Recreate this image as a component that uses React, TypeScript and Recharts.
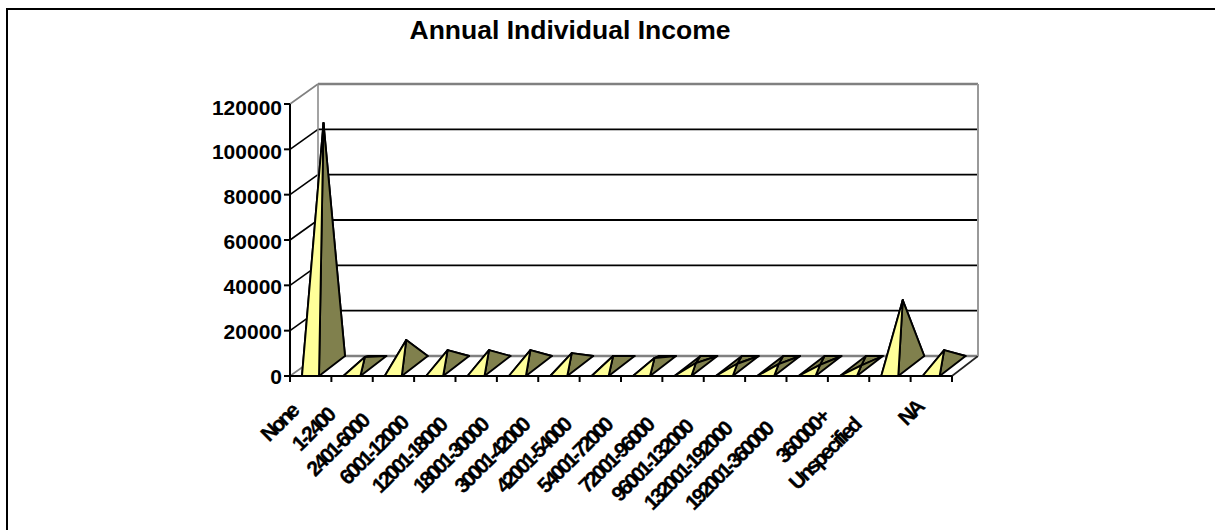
import React from "react";
import { BarChart, Bar, XAxis, YAxis, CartesianGrid } from "recharts";

const categories = [
  "None", "1-2400", "2401-6000", "6001-12000", "12001-18000", "18001-30000",
  "30001-42000", "42001-54000", "54001-72000", "72001-96000", "96001-132000",
  "132001-192000", "192001-360000", "360000+", "Unspecified", "NA",
];
const persons = [
  107200, 4000, 11500, 7000, 7000, 7000, 5700, 4400,
  3500, 1300, 1000, 800, 500, 300, 29100, 7000,
];
const valueTicks = [0, 20000, 40000, 60000, 80000, 100000, 120000];

const rows = categories.map((name, i) => ({ name, persons: persons[i] }));

const FONT = "'Liberation Sans', Arial, sans-serif";
const DEPTH_Y = 20;
const BAND = 662 / categories.length;
const YELLOW = "#FFFF99";
const OLIVE = "#80804D";

// One pyramid per category: the base runs back into the floor and the apex
// sits over the centre of the base, raised by the bar height.
const Pyramid = (props: any) => {
  const { x, y, width, height } = props;
  const dx = 26;
  const floorY = y + height;
  const fl = [x, floorY];
  const fr = [x + width, floorY];
  const br = [x + width + dx, floorY - DEPTH_Y];
  const bl = [x + dx, floorY - DEPTH_Y];
  const apex = [x + (width + dx) / 2, floorY - DEPTH_Y / 2 - height];
  const pts = (...p: number[][]) => p.map((q) => q.join(",")).join(" ");
  const common = { stroke: "#000", strokeWidth: 1.9, strokeLinejoin: "round" as const };
  return (
    <g>
      <polygon points={pts(bl, br, apex)} fill={OLIVE} {...common} />
      <polygon points={pts(fl, bl, apex)} fill={OLIVE} {...common} />
      <polygon points={pts(fr, br, apex)} fill={OLIVE} {...common} />
      <polygon points={pts(fl, fr, apex)} fill={YELLOW} {...common} />
    </g>
  );
};

// Gridline bent around the corner: a slanted run on the side wall, then along the back wall.
const WallLine = (props: any) => {
  const { x1, x2, y1, index } = props;
  const edge = index === 0 || index === valueTicks.length - 1;
  const isFloor = index === 0;
  const isTop = index === valueTicks.length - 1;
  const colour = edge ? "#808080" : "#000";
  const backY = y1 - DEPTH_Y;
  const backL = x1 + 28;
  const backR = x2 + 26;
  return (
    <g key={`wall-${index}`}>
      <line x1={x1} y1={y1} x2={backL} y2={backY} stroke={colour} strokeWidth={1.6} />
      <line x1={backL} y1={backY} x2={backR} y2={backY} stroke={colour} strokeWidth={edge ? 2.6 : 1.9} />
      {isFloor && (
        <line x1={x2} y1={y1} x2={backR} y2={backY} stroke="#222" strokeWidth={1.6} />
      )}
      {isTop && (
        <>
          <line x1={backL} y1={backY} x2={backL} y2={backY + 272} stroke="#8c8c8c" strokeWidth={1.6} />
          <line x1={backR} y1={backY} x2={backR} y2={backY + 272} stroke="#999" strokeWidth={2} />
        </>
      )}
    </g>
  );
};

// Value labels drift slightly below their ticks towards the top of the axis.
const ValueTick = (props: any) => {
  const { x, y, payload } = props;
  const drift = (payload.value / 120000) * 3;
  return (
    <text x={x} y={y + 7.5 + drift} textAnchor="end" fontFamily={FONT} fontWeight={700} fontSize={21} fill="#000">
      {payload.value}
    </text>
  );
};

// Tick marks sit on the band edges; the slanted label hangs left of the band centre,
// further for longer text.
const CategoryTick = (props: any) => {
  const { x, y, payload, index } = props;
  const label = String(payload.value);
  const len = label.length;
  const ex = x - 2 - 2.4 * len;
  const ey = y + 21 + 2 * len;
  const last = index === categories.length - 1;
  const axisY = y - 8;
  return (
    <g>
      <line x1={x - BAND / 2} y1={axisY} x2={x - BAND / 2} y2={axisY + 6} stroke="#000" strokeWidth={2} />
      {last && <line x1={x + BAND / 2} y1={axisY} x2={x + BAND / 2} y2={axisY + 6} stroke="#000" strokeWidth={2} />}
      <text
        transform={`translate(${ex},${ey}) rotate(-45)`}
        textAnchor="end"
        fontFamily={FONT}
        fontWeight={700}
        fontSize={21}
        letterSpacing={-2.6}
        stroke="#000"
        strokeWidth={0.3}
        fill="#000"
      >
        {label}
      </text>
    </g>
  );
};

export default function App() {
  return (
    <div style={{ position: "absolute", left: 0, top: 0, width: 1215, height: 530, background: "#fff", overflow: "hidden" }}>
      <div style={{ position: "absolute", left: 6, top: 8, width: 1215, height: 530, borderTop: "2px solid #000", borderLeft: "2px solid #000" }} />
      <div
        style={{
          position: "absolute", left: 400, top: 14, width: 340, textAlign: "center",
          fontFamily: FONT, fontWeight: 700, fontSize: 26.5, lineHeight: "32px", whiteSpace: "nowrap", color: "#000",
        }}
      >
        Annual Individual Income
      </div>
      <div style={{ position: "absolute", left: 0, top: 0 }}>
        <BarChart
          width={1215}
          height={530}
          data={rows}
          margin={{ top: 104, left: 230, right: 263, bottom: 114 }}
          barSize={17}
        >
          <CartesianGrid horizontal={WallLine as any} vertical={false} />
          <XAxis
            dataKey="name"
            interval={0}
            height={40}
            tick={<CategoryTick />}
            tickLine={false}
            axisLine={{ stroke: "#000", strokeWidth: 2 }}
          />
          <YAxis
            width={60}
            domain={[0, 120000]}
            ticks={valueTicks}
            tick={<ValueTick />}
            tickSize={6}
            tickLine={{ stroke: "#000", strokeWidth: 2 }}
            axisLine={{ stroke: "#000", strokeWidth: 2 }}
          />
          <Bar dataKey="persons" isAnimationActive={false} shape={<Pyramid />} />
        </BarChart>
      </div>
    </div>
  );
}
